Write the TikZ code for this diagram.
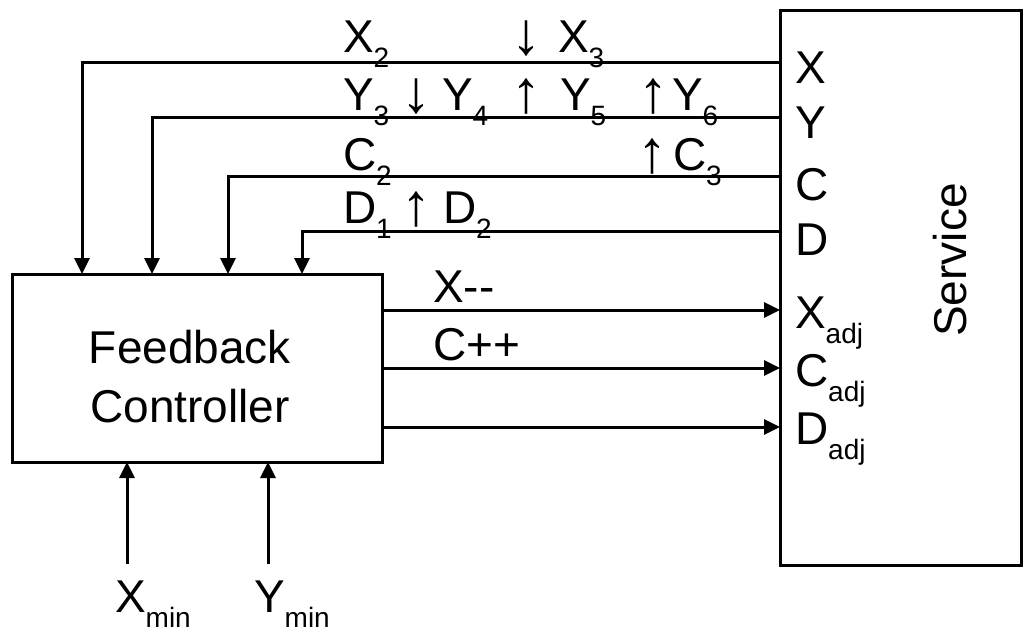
\documentclass[tikz,border=0pt]{standalone}
\usepackage{fontspec}
\setmainfont{Liberation Sans}
\usetikzlibrary{arrows.meta}
\newcommand\lowtxt[1]{\raisebox{-0.34em}{\fontsize{28}{28}\selectfont #1}}
\begin{document}
\begin{tikzpicture}[x=1pt,y=-1pt,
  every node/.style={font=\fontsize{46}{59}\selectfont, inner sep=0pt, outer sep=0pt},
  box/.style={draw, line width=3pt},
  arr/.style={line width=3pt, -{Triangle[length=16pt,width=15pt]}},
  lbl/.style={anchor=base west},
  arw/.style={anchor=base west, font=\fontsize{60}{60}\selectfont}]
\useasboundingbox (0,0) rectangle (1028,635);
% boxes
\node[box, minimum width=370pt, minimum height=188pt] (fb) at (197,368) {};
\node[align=center, anchor=base] (fbl) at (190,422) {Feedback\\Controller};
\node[box, minimum width=241pt, minimum height=555pt] (svc) at (900.5,287.5) {};
\node[rotate=90] (svcl) at (950,260) {Service};
% port coordinates on service
\coordinate (pX) at (780,62);
\coordinate (pY) at (780,117);
\coordinate (pC) at (780,176);
\coordinate (pD) at (780,231);
\coordinate (pXa) at (780,310);
\coordinate (pCa) at (780,368);
\coordinate (pDa) at (780,427);
% input points on controller top
\coordinate (iX) at (82,274);
\coordinate (iY) at (152,274);
\coordinate (iC) at (228,274);
\coordinate (iD) at (302,274);
% feedback wires
\draw[arr] (pX) -| (iX);
\draw[arr] (pY) -| (iY);
\draw[arr] (pC) -| (iC);
\draw[arr] (pD) -| (iD);
% adjust wires
\draw[arr] (fb.east |- pXa) -- (pXa);
\draw[arr] (fb.east |- pCa) -- (pCa);
\draw[arr] (fb.east |- pDa) -- (pDa);
% min inputs
\coordinate (tXm) at (127,564);
\coordinate (tYm) at (268,564);
\draw[arr] (tXm) -- (tXm |- fb.south);
\draw[arr] (tYm) -- (tYm |- fb.south);
\node[lbl] (xmin) at (115,612) {X\lowtxt{min}};
\node[lbl] (ymin) at (254,612) {Y\lowtxt{min}};
% port labels
\node[lbl] (lX) at (795,83) {X};
\node[lbl] (lY) at (795,138) {Y};
\node[lbl] (lC) at (795,200) {C};
\node[lbl] (lD) at (795,255) {D};
\node[lbl] (lXa) at (795,328) {X\lowtxt{adj}};
\node[lbl] (lCa) at (795,386) {C\lowtxt{adj}};
\node[lbl] (lDa) at (795,444) {D\lowtxt{adj}};
% wire labels
\node[lbl] (xm) at (433,302) {X-{}-};
\node[lbl] (cp) at (433,360) {C++};
% row X
\node[lbl] (x2) at (343,52) {X\lowtxt{2}};
\node[arw] (ax3) at (511,54) {↓};
\node[lbl] (x3) at (558,52) {X\lowtxt{3}};
% row Y
\node[lbl] (y3) at (343,110) {Y\lowtxt{3}};
\node[arw] (ay4) at (401,112) {↓};
\node[lbl] (y4) at (442,110) {Y\lowtxt{4}};
\node[arw] (ay5) at (511,112) {↑};
\node[lbl] (y5) at (560,110) {Y\lowtxt{5}};
\node[arw] (ay6) at (638,112) {↑};
\node[lbl] (y6) at (672,110) {Y\lowtxt{6}};
% row C
\node[lbl] (c2) at (343,170) {C\lowtxt{2}};
\node[arw] (ac3) at (637,172) {↑};
\node[lbl] (c3) at (673,170) {C\lowtxt{3}};
% row D
\node[lbl] (d1) at (343,223) {D\lowtxt{1}};
\node[arw] (ad2) at (401,225) {↑};
\node[lbl] (d2) at (443,223) {D\lowtxt{2}};
\end{tikzpicture}
\end{document}
